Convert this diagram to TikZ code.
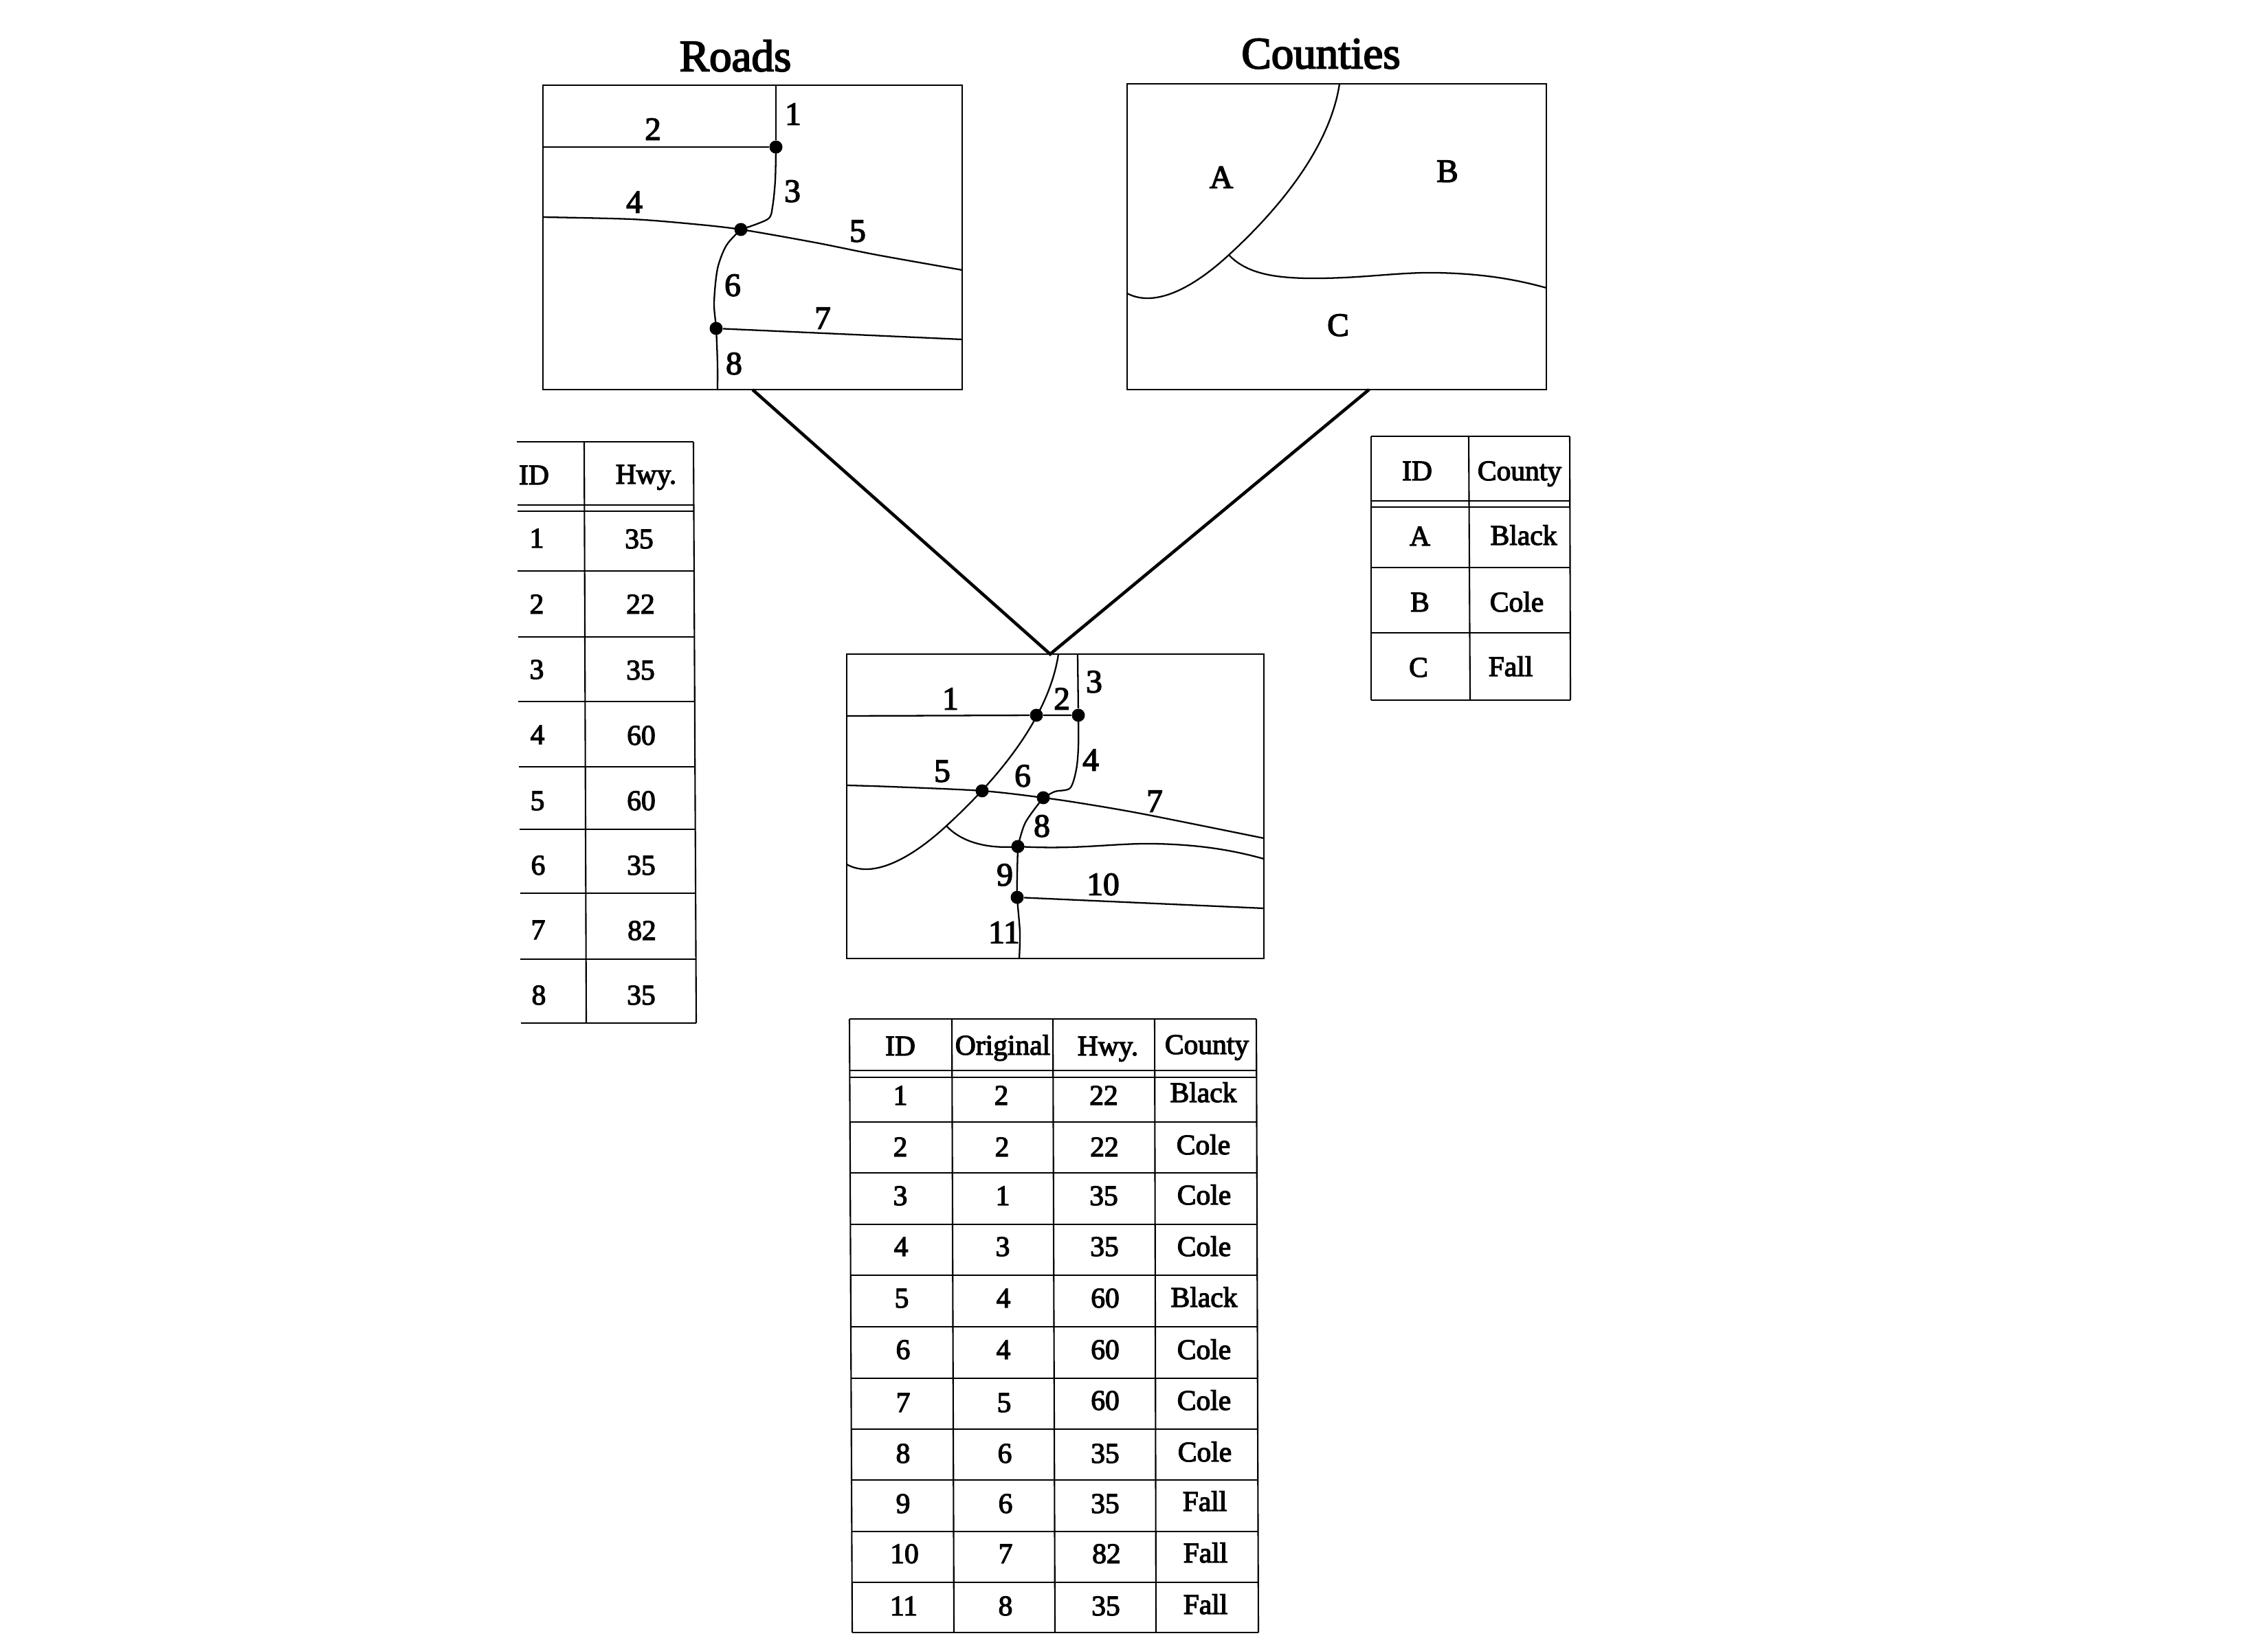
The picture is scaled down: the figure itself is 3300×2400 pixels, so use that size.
\documentclass[tikz,border=0pt]{standalone}
\usepackage{fontspec}
\setmainfont{Liberation Serif}[FakeBold=3]
\usetikzlibrary{positioning}

\tikzset{
  mapframe/.style={draw=black,line width=0.6pt,inner sep=0pt,outer sep=0pt},
  roadline/.style={black,line width=0.65pt},
  joinline/.style={black,line width=1.3pt},
  ruleline/.style={black,line width=0.6pt},
  crossing/.style={circle,fill=black,inner sep=0pt,minimum size=0.19cm},
  titlelbl/.style={inner sep=0pt,text height=12.2pt,text depth=0pt,font=\fontsize{18.5}{22}\selectfont},
  maplbl/.style={inner sep=0pt,text height=8.4pt,text depth=0pt,font=\fontsize{13.5}{16}\selectfont},
  cell/.style={inner sep=0pt,text height=6.8pt,text depth=0pt,font=\fontsize{11.8}{14}\selectfont}
}

\begin{document}
\begin{tikzpicture}[x=0.01cm,y=-0.01cm]
\useasboundingbox (0,0) rectangle (3300,2400);

\node[titlelbl] (roadstitle) at (1070,82) {Roads};
\node[titlelbl] (ctytitle) at (1922,78) {Counties};

\node[mapframe,minimum width=6.10cm,minimum height=4.43cm] (roads) at (1095,345.5) {};
\node[crossing] (ra) at (1129,214) {};
\node[crossing] (rb) at (1078,334) {};
\node[crossing] (rc) at (1042,478) {};
\draw[roadline] (1129,124) -- (ra);
\draw[roadline] (790,214) -- (ra);
\draw[roadline] plot[smooth,tension=0.5] coordinates {(ra.center) (1128,262) (1124,301) (1117,319) (rb.center)};
\draw[roadline] plot[smooth,tension=0.5] coordinates {(790,316) (919,319) (1008,326) (rb.center) (1186,353) (1276,371) (1400,393)};
\draw[roadline] plot[smooth,tension=0.5] coordinates {(rb.center) (1057,357) (1044,391) (1039,441) (rc.center) (1044,530) (1044,567)};
\draw[roadline] (rc) -- (1400,494);
\node[maplbl] (rl1) at (1154,167) {1};
\node[maplbl] (rl2) at (950,189) {2};
\node[maplbl] (rl3) at (1153,279) {3};
\node[maplbl] (rl4) at (923,295) {4};
\node[maplbl] (rl5) at (1248,337) {5};
\node[maplbl] (rl6) at (1066,416) {6};
\node[maplbl] (rl7) at (1197,464) {7};
\node[maplbl] (rl8) at (1068,530) {8};

\node[mapframe,minimum width=6.10cm,minimum height=4.45cm] (counties) at (1945,344.5) {};
\draw[roadline] (1949,122) .. controls (1935,215) and (1860,305) .. (1788,371) .. controls (1735,420) and (1680,448) .. (1640,427);
\draw[roadline] (1788,371) .. controls (1815,400) and (1860,404) .. (1900,405) .. controls (1980,406) and (2030,396) .. (2090,397) .. controls (2150,398) and (2200,405) .. (2250,419);
\node[maplbl] (cla) at (1777,259) {A};
\node[maplbl] (clb) at (2106,250) {B};
\node[maplbl] (clc) at (1947,474) {C};

\node[mapframe,minimum width=6.07cm,minimum height=4.43cm] (overlay) at (1535.5,1173.5) {};
\coordinate (apex) at (1528,952);
\coordinate (ctyfoot) at (1992,567);
\draw[joinline] (roads.south) -- (apex) -- (ctyfoot);
\node[crossing] (oa) at (1508,1041) {};
\node[crossing] (ob) at (1569,1041) {};
\node[crossing] (oc) at (1429,1151) {};
\node[crossing] (od) at (1518,1161) {};
\node[crossing] (oe) at (1481,1232) {};
\node[crossing] (of) at (1480,1306) {};
\draw[roadline] (1540,952) .. controls (1526,1046) and (1449,1136) .. (1377,1202) .. controls (1324,1251) and (1269,1279) .. (1232,1258);
\draw[roadline] (1568,952) -- (ob);
\draw[roadline] plot[smooth,tension=0.5] coordinates {(ob.center) (1569,1087) (1566,1120) (1557,1147) (1535,1152) (od.center)};
\draw[roadline] (1232,1042) -- (oa) -- (ob);
\draw[roadline] plot[smooth,tension=0.5] coordinates {(1232,1143) (1297,1145) (oc.center) (od.center) (1579,1170) (1665,1185) (1839,1220)};
\draw[roadline] plot[smooth,tension=0.5] coordinates {(od.center) (1492,1197) (oe.center)};
\draw[roadline] (1377,1202) .. controls (1404,1231) and (1449,1235) .. (oe.center) .. controls (1569,1237) and (1619,1227) .. (1679,1228) .. controls (1739,1229) and (1789,1236) .. (1839,1250);
\draw[roadline] plot[smooth,tension=0.5] coordinates {(oe.center) (1480,1273) (of.center) (1484,1357) (1483,1395)};
\draw[roadline] (of) -- (1839,1322);
\node[maplbl] (ol1) at (1383,1018) {1};
\node[maplbl] (ol2) at (1545,1018) {2};
\node[maplbl] (ol3) at (1592,993) {3};
\node[maplbl] (ol4) at (1587,1107) {4};
\node[maplbl] (ol5) at (1371,1123) {5};
\node[maplbl] (ol6) at (1488,1130) {6};
\node[maplbl] (ol7) at (1680,1167) {7};
\node[maplbl] (ol8) at (1516,1203) {8};
\node[maplbl] (ol9) at (1462,1274) {9};
\node[maplbl] (ol10) at (1605,1288) {10};
\node[maplbl] (ol11) at (1461,1358) {11};

\draw[ruleline] (752,643) -- (1009,643);
\draw[ruleline] (753,735) -- (1010,735);
\draw[ruleline] (753,744) -- (1010,744);
\draw[ruleline] (753,831) -- (1010,831);
\draw[ruleline] (754,927) -- (1010,927);
\draw[ruleline] (754,1021) -- (1011,1021);
\draw[ruleline] (755,1116) -- (1011,1116);
\draw[ruleline] (756,1207) -- (1012,1207);
\draw[ruleline] (757,1300) -- (1012,1300);
\draw[ruleline] (757,1396) -- (1013,1396);
\draw[ruleline] (758,1489) -- (1013,1489);
\draw[ruleline] (850,643) -- (853,1489);
\draw[ruleline] (1009,643) -- (1013,1489);
\node[cell] (hid) at (777,693) {ID};
\node[cell] (hhwy) at (940,692) {Hwy.};
\node[cell] (h1a) at (781,785) {1};
\node[cell] (h1b) at (930,786) {35};
\node[cell] (h2a) at (781,881) {2};
\node[cell] (h2b) at (932,881) {22};
\node[cell] (h3a) at (781,976) {3};
\node[cell] (h3b) at (932,977) {35};
\node[cell] (h4a) at (782,1071) {4};
\node[cell] (h4b) at (933,1072) {60};
\node[cell] (h5a) at (782,1167) {5};
\node[cell] (h5b) at (933,1167) {60};
\node[cell] (h6a) at (783,1261) {6};
\node[cell] (h6b) at (933,1261) {35};
\node[cell] (h7a) at (783,1355) {7};
\node[cell] (h7b) at (934,1356) {82};
\node[cell] (h8a) at (784,1450) {8};
\node[cell] (h8b) at (933,1450) {35};

\draw[ruleline] (1995,635) -- (2284,635);
\draw[ruleline] (1995,729) -- (2284,729);
\draw[ruleline] (1995,738) -- (2284,738);
\draw[ruleline] (1995,826) -- (2284,826);
\draw[ruleline] (1995,921) -- (2285,921);
\draw[ruleline] (1995,1019) -- (2285,1019);
\draw[ruleline] (1995,635) -- (1995,1019);
\draw[ruleline] (2137,635) -- (2139,1019);
\draw[ruleline] (2284,635) -- (2285,1019);
\node[cell] (cid) at (2062,687) {ID};
\node[cell] (ccty) at (2211,687) {County};
\node[cell] (c1a) at (2066,782) {A};
\node[cell] (c1b) at (2217,781) {Black};
\node[cell] (c2a) at (2066,878) {B};
\node[cell] (c2b) at (2207,878) {Cole};
\node[cell] (c3a) at (2064,973) {C};
\node[cell] (c3b) at (2198,972) {Fall};

\draw[ruleline] (1236,1483) -- (1828,1483);
\draw[ruleline] (1237,1558) -- (1829,1558);
\draw[ruleline] (1237,1568) -- (1829,1568);
\draw[ruleline] (1237,1633) -- (1829,1633);
\draw[ruleline] (1237,1707) -- (1829,1707);
\draw[ruleline] (1238,1782) -- (1829,1782);
\draw[ruleline] (1238,1856) -- (1830,1856);
\draw[ruleline] (1238,1931) -- (1830,1931);
\draw[ruleline] (1238,2006) -- (1830,2006);
\draw[ruleline] (1239,2080) -- (1830,2080);
\draw[ruleline] (1239,2154) -- (1830,2154);
\draw[ruleline] (1239,2229) -- (1831,2229);
\draw[ruleline] (1240,2303) -- (1831,2303);
\draw[ruleline] (1240,2376) -- (1831,2376);
\draw[ruleline] (1236,1483) -- (1240,2376);
\draw[ruleline] (1385,1483) -- (1388,2376);
\draw[ruleline] (1532,1483) -- (1535,2376);
\draw[ruleline] (1680,1483) -- (1682,2376);
\draw[ruleline] (1828,1483) -- (1831,2376);
\node[cell] (oid) at (1310,1524) {ID};
\node[cell] (oorig) at (1459,1523) {Original};
\node[cell] (ohwy) at (1612,1524) {Hwy.};
\node[cell] (octy) at (1756,1522) {County};
\node[cell] (t1a) at (1310,1596) {1};
\node[cell] (t1b) at (1457,1596) {2};
\node[cell] (t1c) at (1606,1596) {22};
\node[cell] (t1d) at (1751,1592) {Black};
\node[cell] (t2a) at (1310,1671) {2};
\node[cell] (t2b) at (1458,1671) {2};
\node[cell] (t2c) at (1607,1671) {22};
\node[cell] (t2d) at (1751,1668) {Cole};
\node[cell] (t3a) at (1310,1742) {3};
\node[cell] (t3b) at (1459,1742) {1};
\node[cell] (t3c) at (1606,1742) {35};
\node[cell] (t3d) at (1752,1741) {Cole};
\node[cell] (t4a) at (1311,1816) {4};
\node[cell] (t4b) at (1459,1816) {3};
\node[cell] (t4c) at (1607,1816) {35};
\node[cell] (t4d) at (1752,1816) {Cole};
\node[cell] (t5a) at (1312,1891) {5};
\node[cell] (t5b) at (1460,1891) {4};
\node[cell] (t5c) at (1608,1891) {60};
\node[cell] (t5d) at (1752,1890) {Black};
\node[cell] (t6a) at (1314,1966) {6};
\node[cell] (t6b) at (1460,1966) {4};
\node[cell] (t6c) at (1608,1966) {60};
\node[cell] (t6d) at (1752,1966) {Cole};
\node[cell] (t7a) at (1314,2043) {7};
\node[cell] (t7b) at (1461,2043) {5};
\node[cell] (t7c) at (1608,2040) {60};
\node[cell] (t7d) at (1752,2040) {Cole};
\node[cell] (t8a) at (1314,2117) {8};
\node[cell] (t8b) at (1462,2117) {6};
\node[cell] (t8c) at (1608,2117) {35};
\node[cell] (t8d) at (1753,2115) {Cole};
\node[cell] (t9a) at (1314,2190) {9};
\node[cell] (t9b) at (1463,2190) {6};
\node[cell] (t9c) at (1608,2190) {35};
\node[cell] (t9d) at (1753,2187) {Fall};
\node[cell] (t10a) at (1316,2263) {10};
\node[cell] (t10b) at (1463,2263) {7};
\node[cell] (t10c) at (1610,2263) {82};
\node[cell] (t10d) at (1754,2262) {Fall};
\node[cell] (t11a) at (1315,2339) {11};
\node[cell] (t11b) at (1463,2339) {8};
\node[cell] (t11c) at (1609,2339) {35};
\node[cell] (t11d) at (1754,2337) {Fall};
\end{tikzpicture}
\end{document}
